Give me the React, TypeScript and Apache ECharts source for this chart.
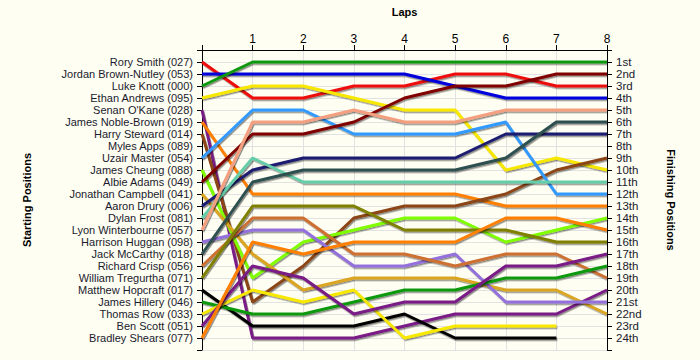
import React, { useEffect, useRef } from "react";
import * as echarts from "echarts";

const laps = [0, 1, 2, 3, 4, 5, 6, 7, 8];
const drivers = [
  "Rory Smith (027)",
  "Jordan Brown-Nutley (053)",
  "Luke Knott (000)",
  "Ethan Andrews (095)",
  "Senan O'Kane (028)",
  "James Noble-Brown (019)",
  "Harry Steward (014)",
  "Myles Apps (089)",
  "Uzair Master (054)",
  "James Cheung (088)",
  "Albie Adams (049)",
  "Jonathan Campbell (041)",
  "Aaron Drury (006)",
  "Dylan Frost (081)",
  "Lyon Winterbourne (057)",
  "Harrison Huggan (098)",
  "Jack McCarthy (018)",
  "Richard Crisp (056)",
  "William Tregurtha (071)",
  "Matthew Hopcraft (017)",
  "James Hillery (046)",
  "Thomas Row (033)",
  "Ben Scott (051)",
  "Bradley Shears (077)",
];
const finishLabels = [
  "1st", "2nd", "3rd", "4th", "5th", "6th", "7th", "8th", "9th", "10th", "11th", "12th",
  "13th", "14th", "15th", "16th", "17th", "18th", "19th", "20th", "21st", "22nd", "23rd", "24th",
];

// positions per lap (lap 0 .. lap 8); null = did not complete lap
const rorySmith = [1, 4, 4, 3, 3, 2, 2, 3, 3];
const jordanBrownNutley = [2, 2, 2, 2, 2, 3, 4, 4, 4];
const lukeKnott = [3, 1, 1, 1, 1, 1, 1, 1, 1];
const ethanAndrews = [4, 3, 3, 4, 5, 5, 10, 9, 10];
const senanOKane = [5, 24, 24, 24, 23, 22, 22, 22, 20];
const jamesNobleBrown = [6, 12, 12, 12, 12, 12, 13, 13, 13];
const harrySteward = [7, 21, 18, 14, 13, 13, 12, 10, 9];
const mylesApps = [8, 8, 8, 8, 8, 8, 8, 8, 8];
const uzairMaster = [9, 5, 5, 7, 7, 7, 6, 12, 12];
const jamesCheung = [10, 19, 16, 15, 14, 14, 16, 15, 14];
const albieAdams = [11, 7, 7, 6, 4, 3, 3, 2, 2];
const jonathanCampbell = [12, 17, 20, 19, 19, 19, 20, 20, 22];
const aaronDrury = [13, 10, 9, 9, 9, 9, 7, 7, 7];
const dylanFrost = [14, 9, 11, 11, 11, 11, 11, 11, 11];
const lyonWinterbourne = [15, 6, 6, 5, 6, 6, 5, 5, 5];
const harrisonHuggan = [16, 15, 15, 18, 18, 17, 21, 21, 21];
const jackMcCarthy = [17, 11, 10, 10, 10, 10, 9, 6, 6];
const richardCrisp = [18, 14, 14, 17, 17, 18, 17, 17, 19];
const williamTregurtha = [19, 13, 13, 13, 15, 15, 15, 16, 16];
const matthewHopcraft = [20, 23, 23, 23, 22, 24, 24, 24, null];
const jamesHillery = [21, 22, 22, 21, 20, 20, 19, 19, 18];
const thomasRow = [22, 20, 21, 20, 24, 23, 23, 23, null];
const benScott = [23, 18, 19, 22, 21, 21, 18, 18, 17];
const bradleyShears = [24, 16, 17, 16, 16, 16, 14, 14, 15];

const positionRows = [
  rorySmith, jordanBrownNutley, lukeKnott, ethanAndrews, senanOKane, jamesNobleBrown,
  harrySteward, mylesApps, uzairMaster, jamesCheung, albieAdams, jonathanCampbell,
  aaronDrury, dylanFrost, lyonWinterbourne, harrisonHuggan, jackMcCarthy, richardCrisp,
  williamTregurtha, matthewHopcraft, jamesHillery, thomasRow, benScott, bradleyShears,
];

const colors = [
  "#ee1111", "#0000dd", "#119911", "#f8e800", "#7a1a86", "#ff7f00",
  "#8b4513", "#ff00ff", "#3399ff", "#80ff00", "#800000", "#daa520",
  "#1c1c70", "#66cdaa", "#f4a080", "#9370db", "#2f4f4f", "#cd7032",
  "#808000", "#000000", "#119911", "#f8e800", "#7a1a86", "#ff7f00",
];

const FONT = "'Liberation Sans', Arial, sans-serif";

export default function App() {
  const ref = useRef<HTMLDivElement>(null);
  useEffect(() => {
    document.body.style.margin = "0";
    if (!ref.current) return;
    const chart = echarts.init(ref.current, null, { renderer: "svg" });
    const series = positionRows.map((row, i) => ({
      type: "line",
      name: drivers[i],
      data: laps.map((lap, j) => (row[j] == null ? null : [lap, row[j]])),
      symbol: "none",
      connectNulls: false,
      lineStyle: {
        color: colors[i],
        width: 3,
        shadowColor: "rgba(0,0,0,0.45)",
        shadowOffsetX: 1,
        shadowOffsetY: 1.5,
        shadowBlur: 0,
      },
      itemStyle: { color: colors[i] },
      z: 2 + i,
    }));
    chart.setOption({
      animation: false,
      backgroundColor: "#fefef2",
      grid: { left: 202, right: 93, top: 50, bottom: 10 },
      xAxis: {
        type: "value",
        position: "top",
        min: 0,
        max: 8,
        interval: 1,
        name: "Laps",
        nameLocation: "middle",
        nameGap: 33,
        nameTextStyle: { fontFamily: FONT, fontSize: 11, fontWeight: "bold", color: "#000" },
        axisLine: { show: true, lineStyle: { color: "#000", width: 1 } },
        axisTick: { show: true, length: 5, lineStyle: { color: "#000" } },
        axisLabel: {
          margin: 5,
          fontFamily: FONT,
          fontSize: 12,
          color: "#000",
          formatter: (v: number) => (v === 0 ? "" : String(v)),
        },
        splitLine: { show: true, lineStyle: { color: "#e2e2e2", width: 1 } },
      },
      yAxis: [
        {
          type: "value",
          position: "left",
          inverse: true,
          min: 0,
          max: 25,
          interval: 1,
          name: "Starting Positions",
          nameLocation: "middle",
          nameGap: 170,
          nameRotate: 90,
          nameTextStyle: { fontFamily: FONT, fontSize: 11, fontWeight: "bold", color: "#000" },
          axisLine: { show: true, lineStyle: { color: "#000", width: 1 } },
          axisTick: { show: true, length: 5, lineStyle: { color: "#000" } },
          axisLabel: {
            margin: 9,
            fontFamily: FONT,
            fontSize: 11,
            lineHeight: 11,
            color: "#1a1a2e",
            formatter: (v: number) => (v >= 1 && v <= 24 ? drivers[v - 1] : ""),
          },
          splitLine: { show: true, lineStyle: { color: "#e2e2e2", width: 1 } },
        },
        {
          type: "value",
          position: "right",
          inverse: true,
          min: 0,
          max: 25,
          interval: 1,
          name: "Finishing Positions",
          nameLocation: "middle",
          nameGap: 58,
          nameRotate: -90,
          nameTextStyle: { fontFamily: FONT, fontSize: 11, fontWeight: "bold", color: "#000" },
          axisLine: { show: true, lineStyle: { color: "#000", width: 1 } },
          axisTick: { show: true, length: 5, lineStyle: { color: "#000" } },
          axisLabel: {
            margin: 9,
            fontFamily: FONT,
            fontSize: 11.5,
            lineHeight: 11,
            color: "#1a1a2e",
            formatter: (v: number) => (v >= 1 && v <= 24 ? finishLabels[v - 1] : ""),
          },
          splitLine: { show: false },
        },
      ],
      series,
    });
    return () => chart.dispose();
  }, []);
  return <div ref={ref} style={{ width: 700, height: 360 }} />;
}
